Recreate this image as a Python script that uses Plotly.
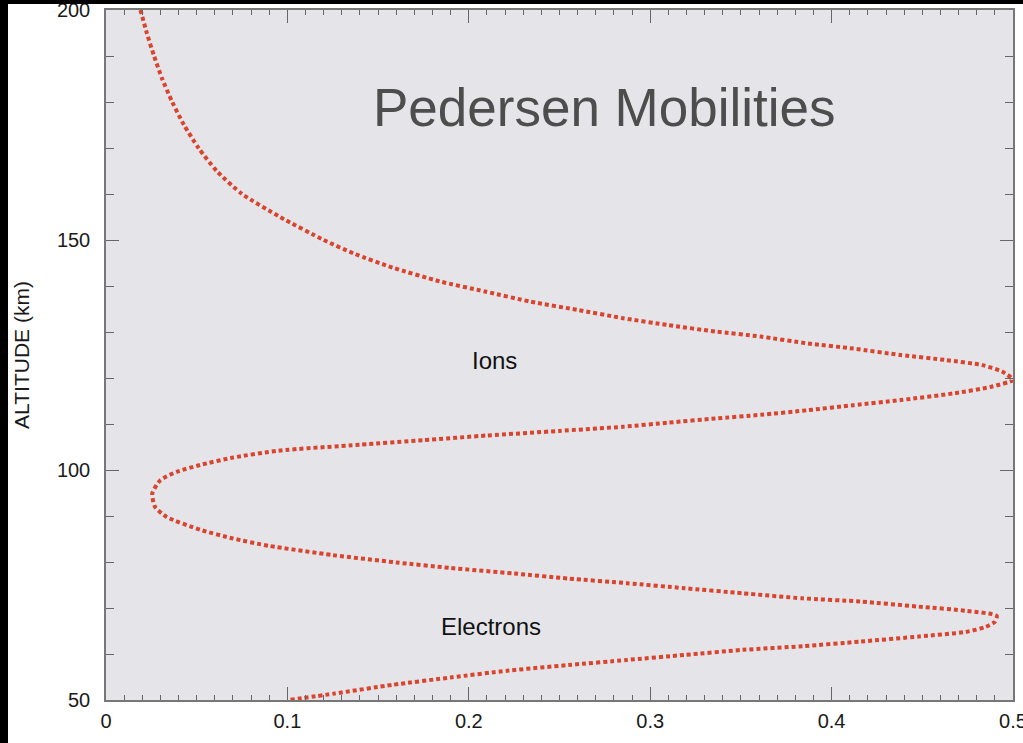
import plotly.graph_objects as go

# Curve (altitude in km, Pedersen mobility)
altitude = [200, 195, 190, 185, 180, 175, 170, 165, 160, 155, 150, 147, 144, 141,
            138.8, 136.6, 134.8, 133, 131.5, 130.1, 129, 127.5, 126.4, 125, 123.9,
            122.8, 121.4, 119.6, 118.1, 116.7, 115.2, 114.1, 113, 112, 111.2, 110.3,
            109.4, 108.5, 107.5, 106.5, 105.5, 104.2, 102.7, 101.1, 99.6, 97.8, 94.9,
            92.0, 89.8, 87.0, 85.1, 83.5, 81.5, 79.9, 78.7, 77.5, 76.4, 75.4, 74.3,
            73.2, 72.1, 71.4, 70.3, 69.4, 68.3, 67.0, 65.9, 64.8, 63.8, 62.7, 61.7,
            60.9, 59.8, 58.7, 57.6, 56.4, 54.9, 53.3, 51.4, 50]
mobility = [0.019, 0.0225, 0.0265, 0.031, 0.0365, 0.043, 0.051, 0.061, 0.075, 0.096,
            0.12, 0.137, 0.158, 0.184, 0.209, 0.234, 0.26, 0.285, 0.31, 0.336, 0.361,
            0.387, 0.412, 0.438, 0.463, 0.483, 0.494, 0.5, 0.488, 0.468, 0.438, 0.412,
            0.387, 0.361, 0.336, 0.31, 0.285, 0.25, 0.21, 0.175, 0.14, 0.095, 0.070,
            0.052, 0.039, 0.030, 0.0255, 0.027, 0.0334, 0.052, 0.070, 0.090, 0.125,
            0.16, 0.19, 0.225, 0.255, 0.287, 0.319, 0.351, 0.384, 0.416, 0.448, 0.474,
            0.491, 0.490, 0.485, 0.474, 0.448, 0.416, 0.384, 0.351, 0.319, 0.287,
            0.255, 0.222, 0.190, 0.158, 0.126, 0.101]

x_range = [0, 0.5]
x_major_step = 0.1
x_minor_step = 0.01
y_range = [50, 200]
y_major_step = 50
y_minor_step = 10

title_text = "Pedersen Mobilities"
labels = ["Ions", "Electrons"]
label_x = [0.214, 0.212]
label_y = [123.9, 65.9]

FONT = "Liberation Sans, Arial, sans-serif"
W, H = 1023, 743
ML, MR, MT, MB = 106, 10, 10, 43
PW, PH = W - ML - MR, H - MT - MB

fig = go.Figure()
fig.add_trace(go.Scatter(
    x=mobility, y=altitude, mode="lines",
    line=dict(color="#d9442e", width=4, dash="4px,3px", shape="spline", smoothing=0.6),
    hoverinfo="skip", showlegend=False,
))

for t, lx, ly in zip(labels, label_x, label_y):
    fig.add_annotation(x=lx, y=ly, text=t, showarrow=False,
                       font=dict(family=FONT, size=24, color="#111111"))

fig.add_annotation(x=0.2746, y=178.9, text=title_text, showarrow=False,
                   font=dict(family=FONT, size=53, color="#4d4d4d"))

# black frame strips seen at the left and top edges of the reference
for wpx, hpx in [(8, H), (W, 4)]:
    fig.add_annotation(
        xref="paper", yref="paper", x=-ML / PW, y=1 + MT / PH,
        xanchor="left", yanchor="top", text=" ", showarrow=False,
        width=wpx, height=hpx, bgcolor="black", borderpad=0, borderwidth=0,
        font=dict(size=1),
    )

fig.update_layout(
    width=W, height=H,
    margin=dict(l=ML, r=MR, t=MT, b=MB, autoexpand=False),
    paper_bgcolor="white",
    plot_bgcolor="#e5e5e9",
    font=dict(family=FONT, color="#1a1a1a"),
    xaxis=dict(
        range=x_range, dtick=x_major_step, tick0=0,
        ticks="inside", ticklen=13, tickwidth=1.2, tickcolor="#666666",
        minor=dict(dtick=x_minor_step, ticks="inside", ticklen=5, tickwidth=1,
                   tickcolor="#666666"),
        showline=True, linecolor="#777777", linewidth=1.5, mirror="allticks",
        showgrid=False, zeroline=False,
        tickfont=dict(size=20, color="#1a1a1a"), ticklabelstandoff=2,
        ticklabeloverflow="allow",
    ),
    yaxis=dict(
        range=y_range, dtick=y_major_step, tick0=50,
        ticks="inside", ticklen=13, tickwidth=1.2, tickcolor="#666666",
        minor=dict(dtick=y_minor_step, ticks="inside", ticklen=8, tickwidth=1,
                   tickcolor="#666666"),
        showline=True, linecolor="#777777", linewidth=1.5, mirror="allticks",
        showgrid=False, zeroline=False,
        tickfont=dict(size=20, color="#1a1a1a"), ticklabelstandoff=10,
        ticklabeloverflow="allow",
        title=dict(text="ALTITUDE (km)", font=dict(size=21, color="#1a1a1a"), standoff=22),
    ),
)

fig.write_html("out.html")
